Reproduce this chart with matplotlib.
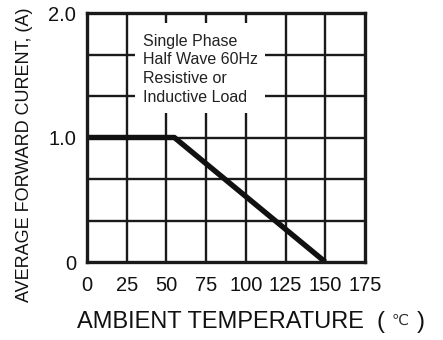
import matplotlib
matplotlib.use("Agg")
import matplotlib.pyplot as plt
from matplotlib.patches import Rectangle

plt.rcParams['font.family'] = ['Liberation Sans', 'DejaVu Sans']

# Data
temp = [0, 55, 150]
current = [1.0, 1.0, 0.0]
xticks = [0, 25, 50, 75, 100, 125, 150, 175]
xticklabels = ["0", "25", "50", "75", "100", "125", "150", "175"]
ygrid = [0, 1/3, 2/3, 1.0, 4/3, 5/3, 2.0]
yticks = [0, 1.0, 2.0]
yticklabels = ["0", "1.0", "2.0"]
note = "Single Phase\nHalf Wave 60Hz\nResistive or\nInductive Load"

fig = plt.figure(figsize=(4.43, 3.40), dpi=100)
ax = fig.add_axes([87/443, 1-262/340, (365-87)/443, (262-13)/340])
ax.set_xlim(0, 175)
ax.set_ylim(0, 2.0)

gc = '#1a1a1a'
for x in xticks[1:-1]:
    ax.axvline(x, color=gc, lw=1.7, zorder=1)
for y in ygrid[1:-1]:
    ax.axhline(y, color=gc, lw=1.7, zorder=1)

ax.add_patch(Rectangle((30.2, 1.2), 81.8, 0.72, facecolor='white', edgecolor='none', zorder=2))
ax.text(35.3, 1.835, note, fontsize=11.5, va='top', ha='left', linespacing=1.32, color='#222222', zorder=3)

ax.plot(temp, current, color='#111111', lw=3.9, solid_capstyle='butt', zorder=4)

ax.set_xticks(xticks)
ax.set_xticklabels(xticklabels, fontsize=14.5)
ax.set_yticks(yticks)
ax.set_yticklabels(yticklabels, fontsize=14.5)
ax.tick_params(axis='x', length=0, pad=10, colors='#111111')
ax.tick_params(axis='y', length=0, pad=8, colors='#111111')
for s in ax.spines.values():
    s.set_linewidth(2.4)
    s.set_color(gc)
    s.set_zorder(5)

fig.text(77/443, 1-322/340, "AMBIENT TEMPERATURE", fontsize=17, ha='left', va='center', color='#111111')
fig.text(377/443, 1-322/340, "(", fontsize=17, ha='left', va='center', color='#111111')
fig.text(400/443, 1-321/340, "\u2103", fontsize=11, ha='center', va='center', color='#333333')
fig.text(417/443, 1-322/340, ")", fontsize=17, ha='left', va='center', color='#111111')
fig.text(25/443, 1-155/340, "AVERAGE FORWARD CURENT, (A)", fontsize=13, rotation=90, ha='center', va='center', color='#111111')

fig.savefig("out.png", dpi=100)
